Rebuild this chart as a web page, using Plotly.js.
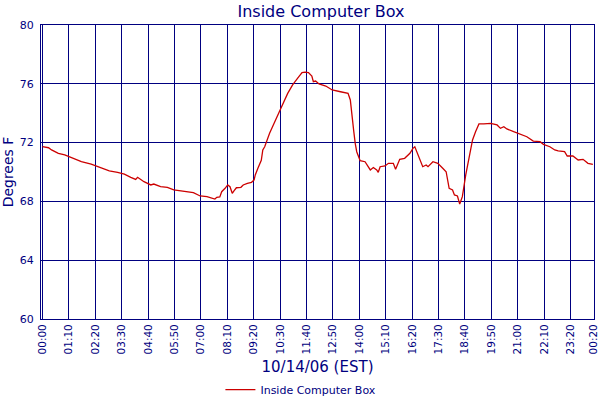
<!DOCTYPE html>
<html>
<head>
<meta charset="utf-8">
<script src="https://cdn.plot.ly/plotly-3.0.1.min.js"></script>
<style>html,body{margin:0;padding:0;background:#fff;}#chart{width:600px;height:400px;}</style>
</head>
<body>
<div id="chart"></div>
<script>
// Timestamps of readings (10/14/06, EST)
const times = [
  "2006-10-14 00:00","2006-10-14 00:16","2006-10-14 00:24","2006-10-14 00:42","2006-10-14 00:59",
  "2006-10-14 01:17","2006-10-14 01:43","2006-10-14 02:09","2006-10-14 02:27","2006-10-14 02:40",
  "2006-10-14 02:57","2006-10-14 03:19","2006-10-14 03:37","2006-10-14 03:54","2006-10-14 04:07",
  "2006-10-14 04:12","2006-10-14 04:29","2006-10-14 04:47","2006-10-14 04:55","2006-10-14 05:13",
  "2006-10-14 05:31","2006-10-14 05:48","2006-10-14 06:14","2006-10-14 06:40","2006-10-14 06:58",
  "2006-10-14 07:16","2006-10-14 07:37","2006-10-14 07:42","2006-10-14 07:50","2006-10-14 07:55",
  "2006-10-14 08:04","2006-10-14 08:11","2006-10-14 08:17","2006-10-14 08:23","2006-10-14 08:28",
  "2006-10-14 08:34","2006-10-14 08:46","2006-10-14 08:52","2006-10-14 09:03","2006-10-14 09:14",
  "2006-10-14 09:21","2006-10-14 09:24","2006-10-14 09:31","2006-10-14 09:40","2006-10-14 09:44",
  "2006-10-14 09:49","2006-10-14 10:02","2006-10-14 10:19","2006-10-14 10:32","2006-10-14 10:50",
  "2006-10-14 11:03","2006-10-14 11:16","2006-10-14 11:28","2006-10-14 11:36","2006-10-14 11:45",
  "2006-10-14 11:54","2006-10-14 11:58","2006-10-14 12:04","2006-10-14 12:13","2006-10-14 12:31",
  "2006-10-14 12:48","2006-10-14 13:10","2006-10-14 13:19","2006-10-14 13:30","2006-10-14 13:36",
  "2006-10-14 13:40","2006-10-14 13:45","2006-10-14 13:49","2006-10-14 13:53","2006-10-14 13:58",
  "2006-10-14 14:02","2006-10-14 14:15","2006-10-14 14:29","2006-10-14 14:37","2006-10-14 14:46",
  "2006-10-14 14:50","2006-10-14 14:55","2006-10-14 15:08","2006-10-14 15:17","2006-10-14 15:30",
  "2006-10-14 15:36","2006-10-14 15:47","2006-10-14 16:00","2006-10-14 16:14","2006-10-14 16:22",
  "2006-10-14 16:27","2006-10-14 16:40","2006-10-14 16:48","2006-10-14 16:57","2006-10-14 17:02",
  "2006-10-14 17:15","2006-10-14 17:28","2006-10-14 17:41","2006-10-14 17:50","2006-10-14 17:58",
  "2006-10-14 18:07","2006-10-14 18:12","2006-10-14 18:20","2006-10-14 18:26","2006-10-14 18:33",
  "2006-10-14 18:42","2006-10-14 18:51","2006-10-14 19:00","2006-10-14 19:08","2006-10-14 19:17",
  "2006-10-14 19:30","2006-10-14 19:48","2006-10-14 20:05","2006-10-14 20:14","2006-10-14 20:23",
  "2006-10-14 20:31","2006-10-14 20:49","2006-10-14 21:02","2006-10-14 21:24","2006-10-14 21:41",
  "2006-10-14 21:59","2006-10-14 22:08","2006-10-14 22:25","2006-10-14 22:38","2006-10-14 22:47",
  "2006-10-14 23:04","2006-10-14 23:11","2006-10-14 23:26","2006-10-14 23:40","2006-10-14 23:53",
  "2006-10-15 00:06","2006-10-15 00:19"
];
// Temperature, degrees F
const temps = [
  71.72,71.65,71.5,71.27,71.16,
  70.97,70.7,70.54,70.36,70.2,
  70.07,69.98,69.86,69.64,69.5,
  69.64,69.34,69.12,69.18,69.0,
  68.96,68.78,68.71,68.6,68.37,
  68.32,68.16,68.28,68.3,68.66,
  68.89,69.12,69.0,68.55,68.73,
  68.93,68.96,69.12,69.23,69.3,
  69.46,69.8,70.25,70.8,71.5,
  71.72,72.63,73.54,74.33,75.35,
  75.92,76.37,76.76,76.8,76.76,
  76.53,76.14,76.19,75.99,75.85,
  75.58,75.46,75.39,75.35,74.9,
  73.8,72.8,71.95,71.38,71.04,
  70.77,70.7,70.14,70.3,70.14,
  69.98,70.36,70.41,70.59,70.59,
  70.18,70.86,70.93,71.27,71.61,
  71.72,70.93,70.36,70.48,70.36,
  70.7,70.59,70.25,70.02,68.89,
  68.78,68.44,68.37,67.82,68.32,
  69.8,71.04,72.18,72.74,73.27,
  73.27,73.31,73.2,72.97,73.08,
  72.93,72.74,72.63,72.4,72.1,
  72.06,71.88,71.72,71.5,71.43,
  71.38,71.09,71.09,70.82,70.86,
  70.59,70.52
];
// x-axis tick positions and their labels
const tickTimes = [
  "2006-10-14 00:00","2006-10-14 01:10","2006-10-14 02:20","2006-10-14 03:30","2006-10-14 04:40",
  "2006-10-14 05:50","2006-10-14 07:00","2006-10-14 08:10","2006-10-14 09:20","2006-10-14 10:30",
  "2006-10-14 11:40","2006-10-14 12:50","2006-10-14 14:00","2006-10-14 15:10","2006-10-14 16:20",
  "2006-10-14 17:30","2006-10-14 18:40","2006-10-14 19:50","2006-10-14 21:00","2006-10-14 22:10",
  "2006-10-14 23:20","2006-10-15 00:20"
];
const tickLabels = ["00:00","01:10","02:20","03:30","04:40","05:50","07:00","08:10","09:20","10:30",
  "11:40","12:50","14:00","15:10","16:20","17:30","18:40","19:50","21:00","22:10","23:20","00:20"];
const yTicks = [60, 64, 68, 72, 76, 80];

const seriesName = "Inside Computer Box";
const chartTitle = "Inside Computer Box";
const xTitle = "10/14/06 (EST)";
const yTitle = "Degrees F";

const navy = "#000080";
const fontFam = "DejaVu Sans, Verdana, sans-serif";

const trace = {
  x: times, y: temps, type: "scatter", mode: "lines", name: seriesName,
  line: {color: "#CC0000", width: 1.3}
};

const layout = {
  width: 600, height: 400,
  margin: {l: 41, r: 6, t: 25, b: 81, autoexpand: false},
  paper_bgcolor: "#fff", plot_bgcolor: "#fff",
  font: {family: fontFam, color: navy},
  title: {text: chartTitle, font: {size: 16, color: navy, family: fontFam},
          x: 0.535, xanchor: "center", y: 0.972, yanchor: "middle"},
  showlegend: true,
  legend: {orientation: "h", x: 0.47, xanchor: "center", y: -0.24, yanchor: "middle",
           font: {size: 11, color: navy}},
  xaxis: {
    type: "date",
    range: ["2006-10-13 23:56", "2006-10-15 00:22"],
    tickmode: "array", tickvals: tickTimes, ticktext: tickLabels,
    tickangle: -90, ticklabeloverflow: "allow",
    tickfont: {size: 10.5, color: navy},
    showgrid: true, gridcolor: navy, gridwidth: 1,
    showline: true, linecolor: navy, linewidth: 1, mirror: true,
    ticks: "", zeroline: false, automargin: false,
    title: {text: xTitle, font: {size: 15, color: navy}, standoff: 8}
  },
  yaxis: {
    range: [60, 80], tickmode: "array", tickvals: yTicks,
    tickfont: {size: 11, color: navy},
    showgrid: true, gridcolor: navy, gridwidth: 1,
    showline: true, linecolor: navy, linewidth: 1, mirror: true,
    ticks: "", zeroline: false, ticklabelstandoff: 4, automargin: false,
    title: {text: yTitle, font: {size: 14, color: navy}, standoff: 6}
  }
};

Plotly.newPlot("chart", [trace], layout, {staticPlot: true, displayModeBar: false});
</script>
</body>
</html>
